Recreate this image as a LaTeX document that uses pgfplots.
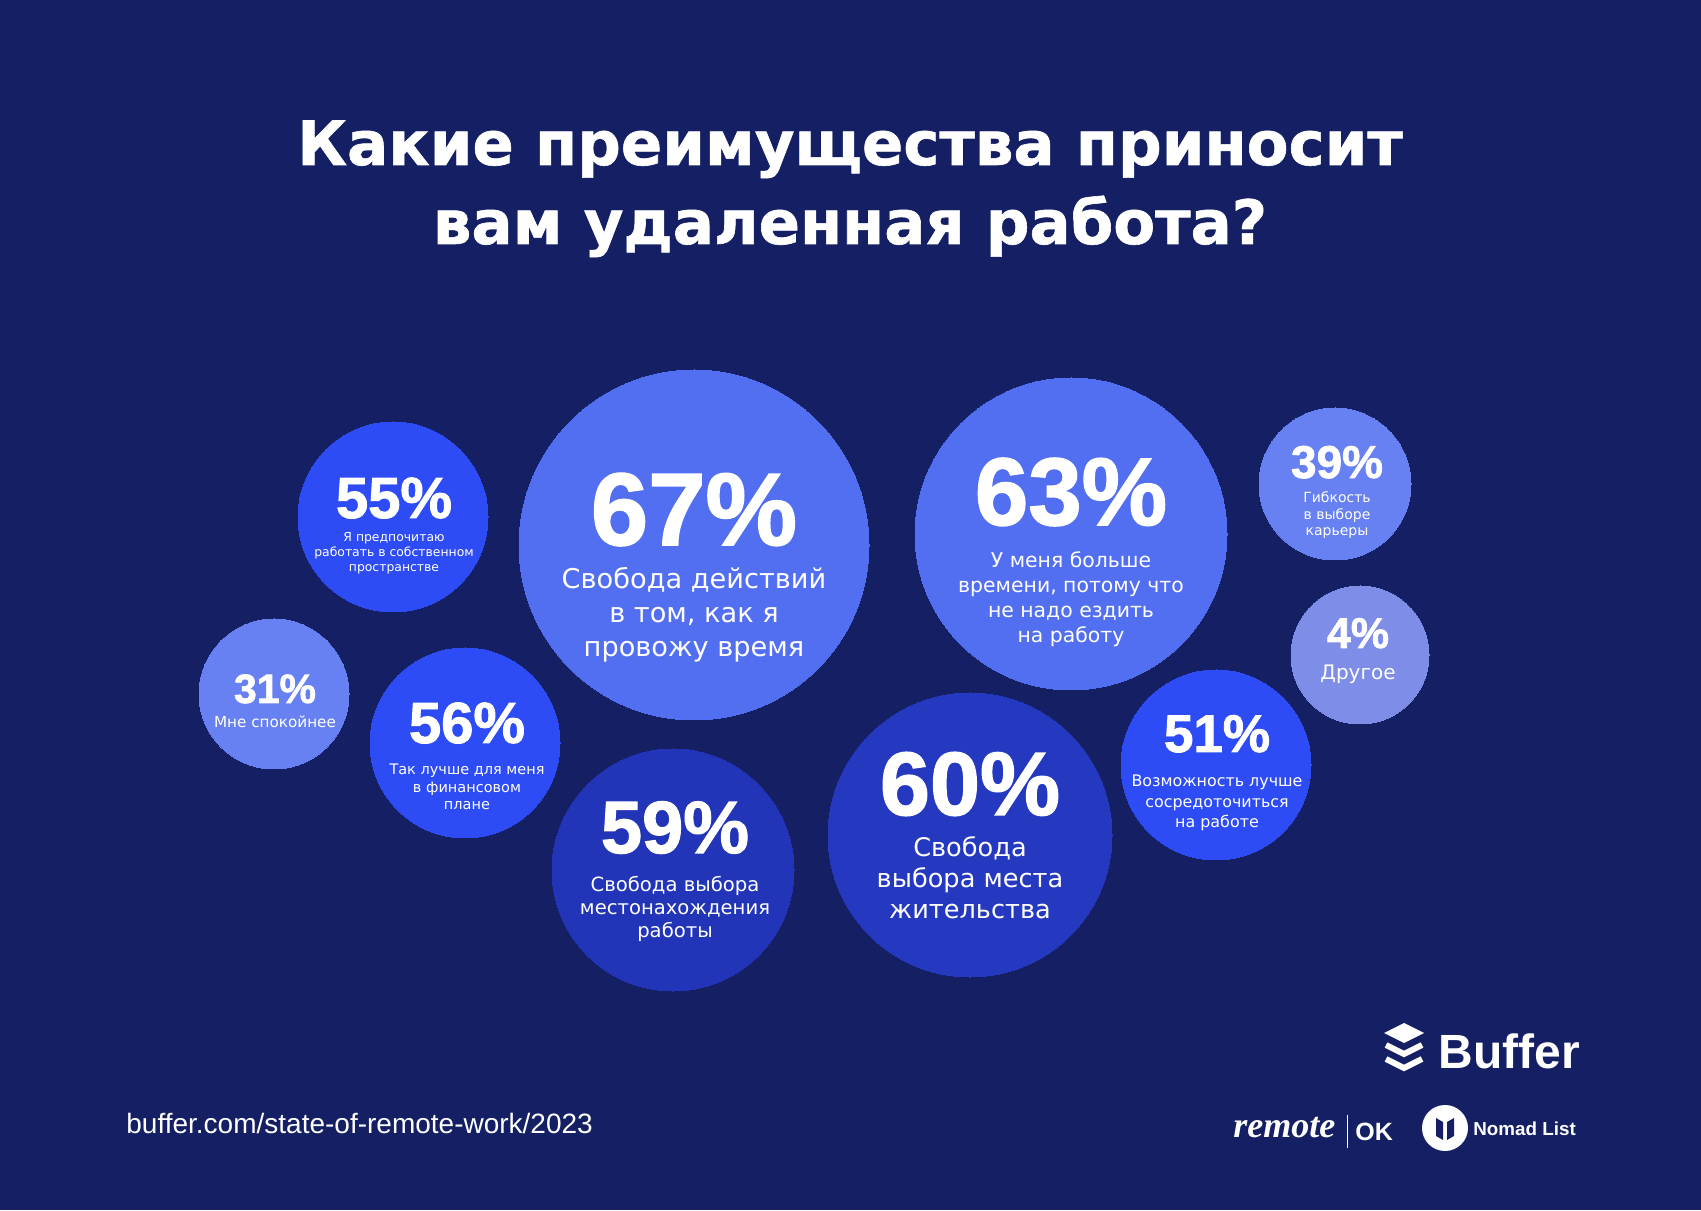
\documentclass[border=0pt]{standalone}
\usepackage{pgfplots}
\pgfplotsset{compat=1.18}
\usepackage{fontspec}
\setmainfont{DejaVu Sans}
\newfontfamily\pctfam{Liberation Sans}[BoldFeatures={FakeBold=1.6}]
\newfontfamily\lblfam{DejaVu Sans}
\newfontfamily\titfam{DejaVu Sans}[BoldFeatures={FakeBold=1}]
\newfontfamily\urlfam{Liberation Sans}
\newfontfamily\serfam{Liberation Serif}
\definecolor{bg}{RGB}{20,31,100}
\definecolor{cA}{RGB}{82,111,242}
\definecolor{cB}{RGB}{45,76,245}
\definecolor{cC}{RGB}{104,129,242}
\definecolor{cD}{RGB}{125,141,232}
\definecolor{cE}{RGB}{34,52,184}
\definecolor{cF}{RGB}{37,56,192}
\newcommand{\pf}[1]{\pctfam\bfseries\fontsize{#1}{#1}\selectfont}
\newcommand{\lf}[1]{\lblfam\fontsize{#1}{#1}\selectfont}
\newcommand{\T}[4]{\node[anchor=base, text=white, inner sep=0pt, font=#3] at (axis cs:#1,#2) {#4};}
\newcommand{\bubble}[4]{\addplot[color=#4, only marks, mark=*, mark size=#3, mark options={draw=#4, fill=#4, line width=0pt}] coordinates {(#1,#2)};}
\begin{document}
\begin{tikzpicture}
\begin{axis}[x=0.5pt, y=0.5pt, xmin=0, xmax=1701, ymin=0, ymax=1210,
  hide axis, clip=false, scale only axis, set layers=standard]
\begin{pgfonlayer}{axis background}
\fill[bg] (axis cs:0,0) rectangle (axis cs:1701,1210);
\end{pgfonlayer}
% bubbles: x, y (axis), radius (pt), colour
\bubble{393}{693}{47.5pt}{cB}
\bubble{694}{665}{87.5pt}{cA}
\bubble{1071}{676}{78pt}{cA}
\bubble{1335}{726}{38pt}{cC}
\bubble{1360}{555}{34.5pt}{cD}
\bubble{274}{516}{37.5pt}{cC}
\bubble{465}{467}{47.5pt}{cB}
\bubble{673}{340}{60.5pt}{cE}
\bubble{970}{375}{71pt}{cF}
\bubble{1216}{445}{47.5pt}{cB}
\begin{pgfonlayer}{axis foreground}
% title
\T{850}{1045}{\titfam\bfseries\fontsize{30.5}{30.5}\selectfont}{Какие преимущества приносит}
\T{850}{966}{\titfam\bfseries\fontsize{30.5}{30.5}\selectfont}{вам удаленная работа?}
% 67
\T{694}{665}{\pf{51.5}}{67\%}
\T{694}{621}{\lf{13.6}}{Свобода действий}
\T{694}{587}{\lf{13.6}}{в том, как я}
\T{694}{553}{\lf{13.6}}{провожу время}
% 63
\T{1071}{685}{\pf{48}}{63\%}
\T{1071}{642}{\lf{10.2}}{У меня больше}
\T{1071}{617}{\lf{10.2}}{времени, потому что}
\T{1071}{592}{\lf{10.2}}{не надо ездить}
\T{1071}{567}{\lf{10.2}}{на работу}
% 55
\T{394}{692}{\pf{29}}{55\%}
\T{394}{668}{\lf{6.2}}{Я предпочитаю}
\T{394}{653}{\lf{6.2}}{работать в собственном}
\T{394}{638}{\lf{6.2}}{пространстве}
% 39
\T{1337}{732}{\pf{23}}{39\%}
\T{1337}{707}{\lf{7}}{Гибкость}
\T{1337}{690}{\lf{7}}{в выборе}
\T{1337}{674}{\lf{7}}{карьеры}
% 4
\T{1358}{562}{\pf{21.5}}{4\%}
\T{1358}{530}{\lf{10}}{Другое}
% 31
\T{275}{507}{\pf{20.5}}{31\%}
\T{275}{482}{\lf{7.6}}{Мне спокойнее}
% 56
\T{467}{467}{\pf{29}}{56\%}
\T{467}{435}{\lf{7.25}}{Так лучше для меня}
\T{467}{417}{\lf{7.25}}{в финансовом}
\T{467}{400}{\lf{7.25}}{плане}
% 59
\T{675}{357}{\pf{37}}{59\%}
\T{675}{318}{\lf{9.8}}{Свобода выбора}
\T{675}{295}{\lf{9.8}}{местонахождения}
\T{675}{272}{\lf{9.8}}{работы}
% 60
\T{970}{395}{\pf{45}}{60\%}
\T{970}{353}{\lf{12.8}}{Свобода}
\T{970}{322}{\lf{12.8}}{выбора места}
\T{970}{292}{\lf{12.8}}{жительства}
% 51
\T{1217}{458}{\pf{26.5}}{51\%}
\T{1217}{423}{\lf{7.95}}{Возможность лучше}
\T{1217}{402}{\lf{7.95}}{сосредоточиться}
\T{1217}{382}{\lf{7.95}}{на работе}
% footer
\node[anchor=base west, text=white, inner sep=0pt, font={\urlfam\fontsize{14}{14}\selectfont}] at (axis cs:126,77) {buffer.com/state-of-remote-work/2023};
\node[anchor=base west, text=white, inner sep=0pt, font={\urlfam\bfseries\fontsize{24}{24}\selectfont}] at (axis cs:1438,142) {Buffer};
\fill[white] (axis cs:1384,177) -- (axis cs:1404,187) -- (axis cs:1424,177) -- (axis cs:1404,167) -- cycle;
\draw[white, line width=3pt] (axis cs:1386,165) -- (axis cs:1404,156) -- (axis cs:1422,165);
\draw[white, line width=3pt] (axis cs:1386,151) -- (axis cs:1404,142) -- (axis cs:1422,151);
\node[anchor=base west, text=white, inner sep=0pt, font={\serfam\bfseries\itshape\fontsize{18}{18}\selectfont}] at (axis cs:1233,73) {remote};
\draw[white, line width=0.5pt] (axis cs:1347,95) -- (axis cs:1347,62);
\node[anchor=base west, text=white, inner sep=0pt, font={\urlfam\bfseries\fontsize{12.5}{12.5}\selectfont}] at (axis cs:1355,70) {OK};
\fill[white] (axis cs:1445,82) circle[radius=11.5pt];
\fill[bg] (axis cs:1436,92) -- (axis cs:1443,88) -- (axis cs:1443,70) -- (axis cs:1436,74) -- cycle;
\fill[bg] (axis cs:1447,88) -- (axis cs:1454,92) -- (axis cs:1454,74) -- (axis cs:1447,70) -- cycle;
\node[anchor=base west, text=white, inner sep=0pt, font={\urlfam\bfseries\fontsize{9.4}{9.4}\selectfont}] at (axis cs:1473,75) {Nomad List};
\end{pgfonlayer}
\end{axis}
\end{tikzpicture}
\end{document}
